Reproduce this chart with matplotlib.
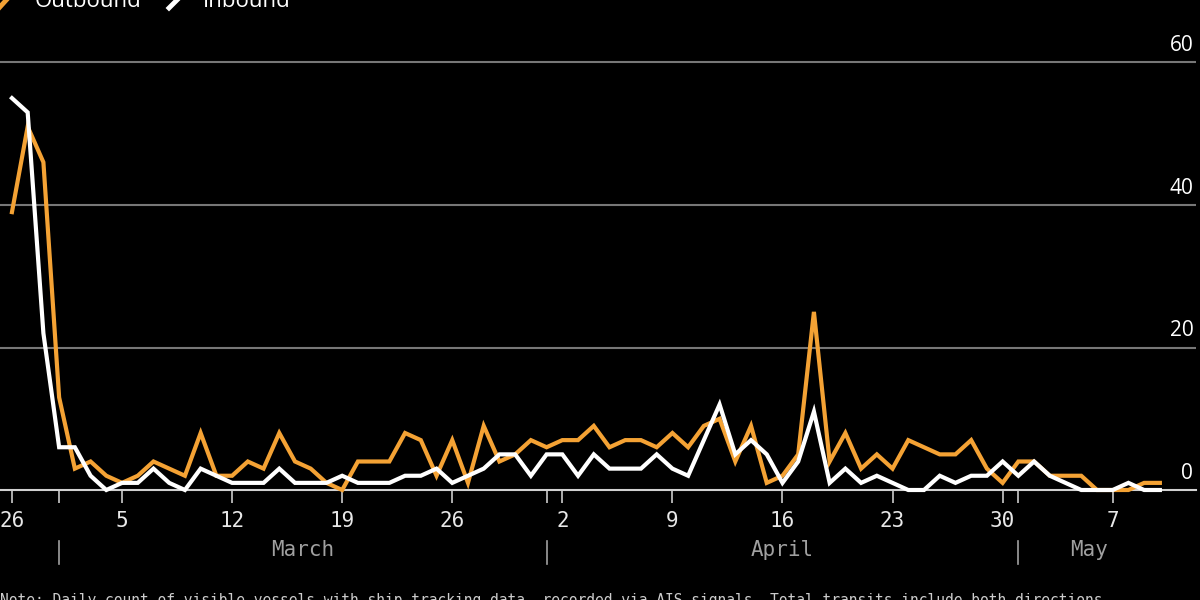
import numpy as np
import pandas as pd
import matplotlib
matplotlib.use("Agg")
import matplotlib.pyplot as plt
import matplotlib.transforms as mtransforms
from matplotlib.lines import Line2D

# daily counts, Feb 26 - May 10
dates = pd.date_range("2023-02-26", "2023-05-10", freq="D")
outbound = [39, 51, 46, 13, 3, 4, 2, 1, 2, 4,
            3, 2, 8, 2, 2, 4, 3, 8, 4, 3,
            1, 0, 4, 4, 4, 8, 7, 2, 7, 1,
            9, 4, 5, 7, 6, 7, 7, 9, 6, 7,
            7, 6, 8, 6, 9, 10, 4, 9, 1, 2,
            5, 25, 4, 8, 3, 5, 3, 7, 6, 5,
            5, 7, 3, 1, 4, 4, 2, 2, 2, 0,
            0, 0, 1, 1]
inbound = [55, 53, 22, 6, 6, 2, 0, 1, 1, 3,
           1, 0, 3, 2, 1, 1, 1, 3, 1, 1,
           1, 2, 1, 1, 1, 2, 2, 3, 1, 2,
           3, 5, 5, 2, 5, 5, 2, 5, 3, 3,
           3, 5, 3, 2, 7, 12, 5, 7, 5, 1,
           4, 11, 1, 3, 1, 2, 1, 0, 0, 2,
           1, 2, 2, 4, 2, 4, 2, 1, 0, 0,
           0, 1, 0, 0]
yticks = [0, 20, 40, 60]
week_ticks = pd.date_range("2023-02-26", "2023-05-10", freq="7D")
month_starts = pd.to_datetime(["2023-03-01", "2023-04-01", "2023-05-01"])
month_names = ["March", "April", "May"]

ORANGE = "#f4a234"
BG = "black"
mono = "DejaVu Sans Mono"

fig = plt.figure(figsize=(12, 6), dpi=100, facecolor=BG)
ax = fig.add_axes([0.0, 1 - 490 / 600, 0.9967, 450 / 600])
ax.set_facecolor(BG)

ax.plot(dates, outbound, color=ORANGE, lw=3, clip_on=False, zorder=3, solid_joinstyle="miter")
ax.plot(dates, inbound, color="white", lw=3, clip_on=False, zorder=4, solid_joinstyle="miter")

ax.set_xlim(dates[0] - pd.Timedelta(days=0.76), dates[0] + pd.Timedelta(days=75.3))
ax.set_ylim(0, 450 / 7.125)

for s in ax.spines.values():
    s.set_visible(False)

# gridlines + right-side labels
for v in yticks:
    if v == 0:
        ax.axhline(v, color="#d0d0d0", lw=1.5, zorder=2, clip_on=False)
    else:
        ax.axhline(v, color="#777777", lw=1.5, zorder=1)
    ax.annotate(str(v), xy=(1.0, v), xycoords=("axes fraction", "data"),
                xytext=(-2, 8), textcoords="offset points", ha="right", va="baseline",
                color="white", fontsize=15, family="Open Sans")
ax.set_yticks([])

# weekly ticks with day labels, month-start ticks unlabeled
ax.set_xticks(week_ticks)
ax.set_xticklabels([str(d.day) for d in week_ticks])
ax.set_xticks(month_starts, minor=True)
ax.tick_params(axis="x", which="both", length=9, width=1.2, color="#cccccc",
               labelcolor="#e8e8e8", labelsize=15, pad=6)
for lbl in ax.get_xticklabels():
    lbl.set_family(mono)

# month names and separators
trans = mtransforms.blended_transform_factory(ax.transData, ax.transAxes)
bounds = list(month_starts) + [dates[-1]]
for i, name in enumerate(month_names):
    mid = bounds[i] + (bounds[i + 1] - bounds[i]) / 2
    ax.text(mid, -0.133, name, transform=trans, ha="center", va="center",
            color="#a0a0a0", fontsize=15, family=mono)
    ax.plot([month_starts[i], month_starts[i]], [-0.113, -0.164], transform=trans,
            color="#a0a0a0", lw=1.2, clip_on=False)

# legend at top (partly cut off)
def fx(px):
    return px / 1200

def fy(py):
    return 1 - py / 600

fig.add_artist(Line2D([fx(-1), fx(9)], [fy(8), fy(-3)], color=ORANGE, lw=3.5,
                      transform=fig.transFigure))
fig.text(fx(35), fy(7), "Outbound", color="white", fontsize=16, family="Open Sans",
         va="baseline", ha="left")
fig.add_artist(Line2D([fx(169), fx(180)], [fy(8), fy(-3)], color="white", lw=3.5,
                      transform=fig.transFigure))
fig.text(fx(203), fy(7), "Inbound", color="white", fontsize=16, family="Open Sans",
         va="baseline", ha="left")

fig.text(0.0, fy(593),
         "Note: Daily count of visible vessels with ship-tracking data, recorded via AIS signals. "
         "Total transits include both directions",
         color="#cccccc", fontsize=10.5, family=mono, va="top", ha="left")

fig.savefig("out.png", dpi=100, facecolor=BG)
